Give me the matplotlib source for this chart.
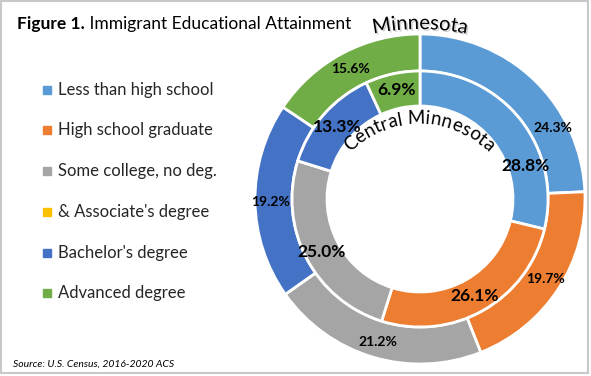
import numpy as np
import matplotlib
matplotlib.use("Agg")
import matplotlib.pyplot as plt
import matplotlib.patheffects as pe
from matplotlib.patches import Rectangle
from matplotlib.font_manager import FontProperties

plt.rcParams["font.family"] = ["Lato", "DejaVu Sans"]

# data
CATEGORIES = ["Less than high school", "High school graduate", "Some college, no deg.",
              "& Associate's degree", "Bachelor's degree", "Advanced degree"]
MINNESOTA = [24.3, 19.7, 21.2, 0.0, 19.2, 15.6]
CENTRAL_MN = [28.8, 26.1, 25.0, 0.0, 13.3, 6.9]
COLORS = ["#5B9BD5", "#ED7D31", "#A5A5A5", "#FFC000", "#4472C4", "#70AD47"]

# layout (pixels, y up)
W, H = 591, 376
CX, CY = 420, 177
R_OUT, R_MID, R_IN = 165, 128, 93
# hand-placed label offsets from the centre, like the original
OUT_LABEL_POS = [(133, 71), (125, -80), (-42, -143), None, (-149, -3), (-70, 130)]
IN_LABEL_POS = [(105, 33), (55, -97), (-98, -53), None, (-83, 72), (-24, 109)]

fig = plt.figure(figsize=(W / 100, H / 100), dpi=100)
ax = fig.add_axes([0, 0, 1, 1])

ax.pie(MINNESOTA, radius=R_OUT, center=(CX, CY), startangle=90, counterclock=False,
       colors=COLORS, wedgeprops=dict(width=R_OUT - R_MID, edgecolor="white", linewidth=2))
ax.pie(CENTRAL_MN, radius=R_MID, center=(CX, CY), startangle=90, counterclock=False,
       colors=COLORS, wedgeprops=dict(width=R_MID - R_IN, edgecolor="white", linewidth=2))

for val, pos in zip(MINNESOTA, OUT_LABEL_POS):
    if pos is None:
        continue
    ax.text(CX + pos[0], CY + pos[1], f"{val:.1f}%", ha="center", va="center",
            fontsize=10, fontweight="bold", color="black")
for val, pos in zip(CENTRAL_MN, IN_LABEL_POS):
    if pos is None:
        continue
    ax.text(CX + pos[0], CY + pos[1], f"{val:.1f}%", ha="center", va="center",
            fontsize=12.5, fontweight="bold", color="black")


def arc_text(s, cx, cy, r, size, shadow=False):
    """write s along an arc (top outward), centred at the top of the circle"""
    fp = FontProperties(family=["Lato", "DejaVu Sans"], size=size)
    rend = fig.canvas.get_renderer()
    wid = lambda t: rend.get_text_width_height_descent(t, fp, ismath=False)[0] if t else 0
    total = wid(s)
    effects = None
    if shadow:
        effects = [pe.SimplePatchShadow(offset=(1.2, -1.2), shadow_rgbFace="gray", alpha=0.35),
                   pe.Normal()]
    for i, ch in enumerate(s):
        mid = (wid(s[:i]) + wid(s[:i + 1])) / 2
        th = (mid - total / 2) / r
        ax.text(cx + r * np.sin(th), cy + r * np.cos(th), ch, fontproperties=fp,
                rotation=-np.degrees(th), rotation_mode="anchor",
                ha="center", va="baseline", color="black", path_effects=effects)


arc_text("Minnesota", 420, 114, 233, 14.5, shadow=True)
arc_text("Central Minnesota", 419, 153, 99, 13.5)

# legend
LEG_Y = [286, 246, 205, 164, 123, 83]
for cat, col, y in zip(CATEGORIES, COLORS, LEG_Y):
    ax.add_patch(Rectangle((43, y - 4), 8, 8, color=col))
    ax.text(58, y, cat, ha="left", va="center", fontsize=12, color="#262626")

# title
t1 = ax.text(17, 352, "Figure 1.", fontsize=12.5, fontweight="bold", ha="left",
             va="center", color="black")
ax.annotate(" Immigrant Educational Attainment", xy=(1, 0), xycoords=t1,
            ha="left", va="bottom", fontsize=12.5, color="black")

ax.text(13, 12, "Source: U.S. Census, 2016-2020 ACS", fontsize=7.5, style="italic",
        ha="left", va="center", color="black")

ax.add_patch(Rectangle((1, 3), 587, 372, fill=False, edgecolor="#C8C8C8", linewidth=1.5))

ax.set_xlim(0, W)
ax.set_ylim(0, H)
ax.set_aspect("equal")
ax.axis("off")

fig.savefig("out.png", dpi=100)
